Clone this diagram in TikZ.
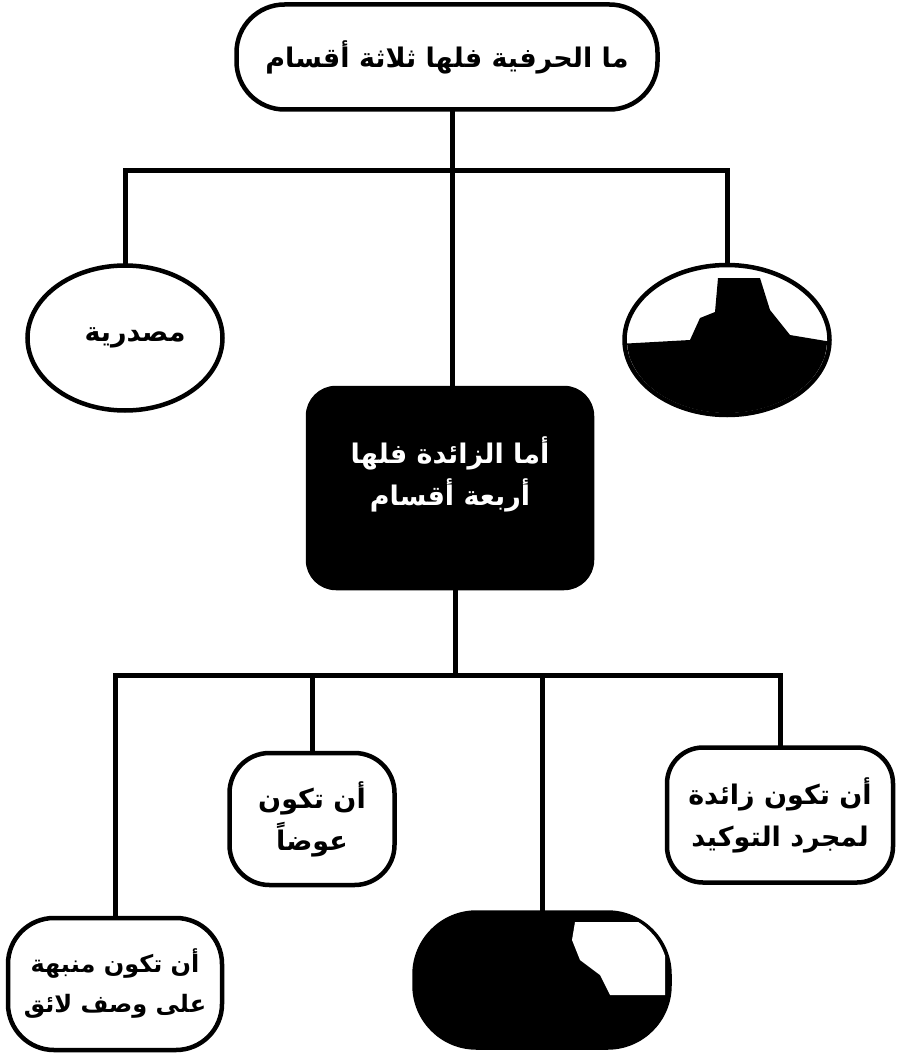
\documentclass[tikz,border=0pt]{standalone}
\usepackage{fontspec}
\usetikzlibrary{shapes.geometric}
\TeXXeTstate=1
\newfontfamily\arfont[Script=Arabic]{DejaVu Sans}
\tikzset{
  conn/.style={line width=5pt, line cap=rect},
  box/.style={draw, line width=4.5pt, fill=white, align=center, inner sep=0pt,
     font=\arfont\bfseries\fontsize{27}{42}\selectfont},
  oval/.style={box, ellipse},
}
\begin{document}
\begin{tikzpicture}[x=1pt,y=1pt]
\useasboundingbox (0,0) rectangle (897,-1054);
% nodes
\node[box, rounded corners=48pt, minimum width=421pt, minimum height=105pt] (top) at (447,-57)
  {\beginR ما الحرفية فلها ثلاثة أقسام\endR};
\node[oval, minimum width=195pt, minimum height=145pt] (masd) at (125,-338)
  {\hspace*{20pt}\beginR مصدرية\endR};
\node[oval, minimum width=205pt, minimum height=150pt] (naf) at (727,-340) {};
\node[box, fill=black, text=white, rounded corners=28pt, minimum width=284pt, minimum height=200pt] (zaid) at (450,-488)
  {\beginR أما الزائدة فلها\endR\\ \beginR أربعة أقسام\endR\\[-8pt]\mbox{}};
\node[box, rounded corners=40pt, minimum width=165pt, minimum height=132pt] (iwad) at (312,-819)
  {\beginR أن تكون\endR\\ \beginR عوضاً\endR};
\node[box, rounded corners=36pt, minimum width=226pt, minimum height=135pt] (tawk) at (780,-815)
  {\beginR أن تكون زائدة\endR\\ \beginR لمجرد التوكيد\endR};
\node[box, rounded corners=46pt, minimum width=214pt, minimum height=132pt,
      font=\arfont\bfseries\fontsize{24}{40}\selectfont] (munb) at (115,-984)
  {\beginR أن تكون منبهة\endR\\ \beginR على وصف لائق\endR};
\node[box, fill=black, rounded corners=62pt, minimum width=255pt, minimum height=135pt] (kaff) at (542,-980) {};
% dark area of the right oval
\begin{scope}
  \clip (727,-340) ellipse (100pt and 73pt);
  \fill (600,-355) rectangle (850,-420);
  \fill (600,-345) -- (690,-340) -- (700,-318) -- (715,-312) -- (718,-278) -- (760,-278) -- (770,-310) -- (790,-335) -- (850,-345) -- (850,-360) -- (600,-360) -- cycle;
\end{scope}
% white patch of the bottom-middle node
\begin{scope}
  \clip[rounded corners=62pt] (416,-913) rectangle (668,-1047);
  \fill[white] (575,-922) -- (665,-922) -- (665,-995) -- (610,-995) -- (600,-975) -- (580,-960) -- (572,-940) -- cycle;
\end{scope}
% connectors
\coordinate (j1) at (452,-170);
\coordinate (j2) at (455,-675);
\draw[conn] (top.south -| j1) -- (zaid.north -| j1);
\draw[conn] (masd.north |- j1) -- (naf.north |- j1);
\draw[conn] (masd.north |- j1) -- (masd.north);
\draw[conn] (naf.north |- j1) -- (naf.north);
\draw[conn] (zaid.south -| j2) -- (j2);
\draw[conn] (munb.north |- j2) -- (tawk.north |- j2);
\draw[conn] (munb.north |- j2) -- (munb.north);
\draw[conn] (iwad.north |- j2) -- (iwad.north);
\draw[conn] (kaff.north |- j2) -- (kaff.north);
\draw[conn] (tawk.north |- j2) -- (tawk.north);
\end{tikzpicture}
\end{document}
